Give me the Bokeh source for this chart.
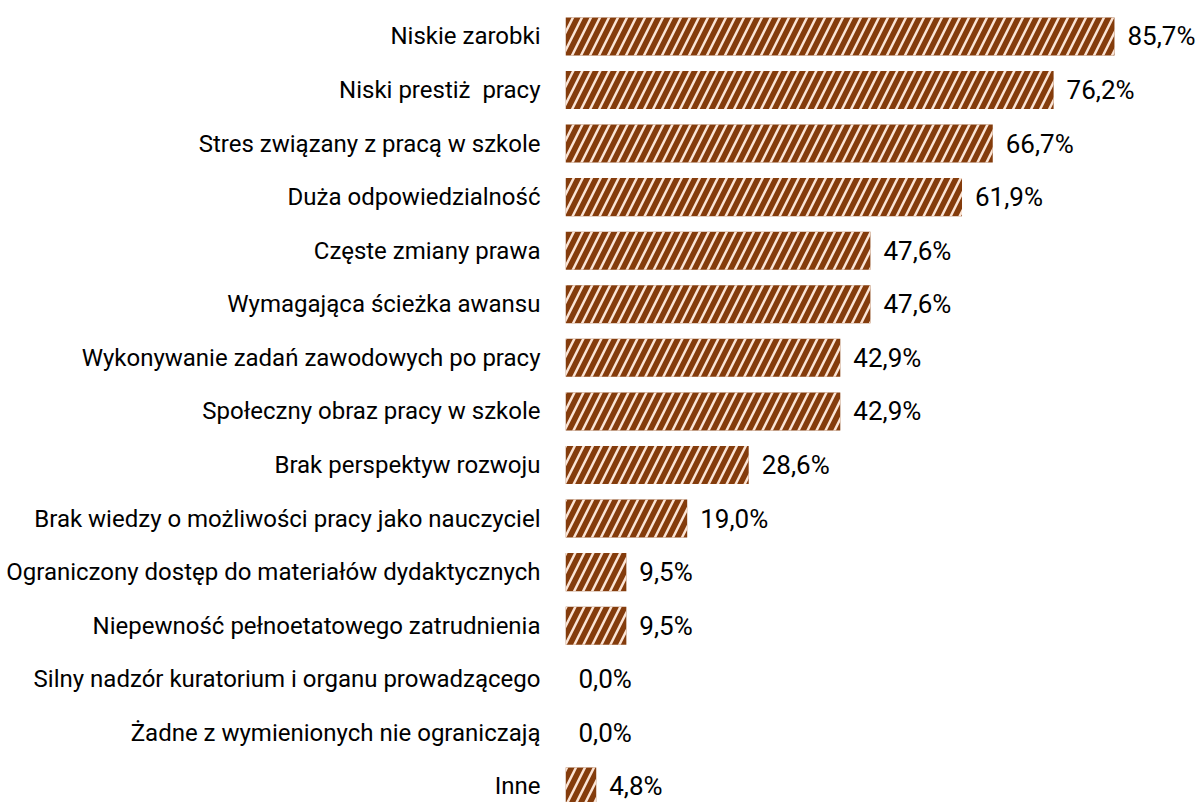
from bokeh.plotting import figure
from bokeh.models import Range1d, FixedTicker, ColumnDataSource
from bokeh.embed import file_html
from bokeh.resources import INLINE
from bokeh.core.properties import value

categories = [
    "Niskie zarobki",
    "Niski prestiż\u00a0 pracy",
    "Stres związany z pracą w szkole",
    "Duża odpowiedzialność",
    "Częste zmiany prawa",
    "Wymagająca ścieżka awansu",
    "Wykonywanie zadań zawodowych po pracy",
    "Społeczny obraz pracy w szkole",
    "Brak perspektyw rozwoju",
    "Brak wiedzy o możliwości pracy jako nauczyciel",
    "Ograniczony dostęp do materiałów dydaktycznych",
    "Niepewność pełnoetatowego zatrudnienia",
    "Silny nadzór kuratorium i organu prowadzącego",
    "Żadne z wymienionych nie ograniczają",
    "Inne",
]
values = [85.7, 76.2, 66.7, 61.9, 47.6, 47.6, 42.9, 42.9, 28.6, 19.0, 9.5, 9.5, 0.0, 0.0, 4.8]

pos = list(range(len(categories)))
labels = [f"{v:.1f}".replace(".", ",") + "%" for v in values]
src = ColumnDataSource(dict(y=pos, v=values, lab=labels))

FONT = "Roboto"

p = figure(width=1203, height=802, output_backend="svg", toolbar_location=None,
           x_range=Range1d(0, 99.6), y_range=Range1d(14.30, -0.67),
           min_border_left=565, min_border_right=0, min_border_top=0, min_border_bottom=0)

p.hbar(y="y", right="v", left=0, height=0.71, source=src,
       fill_color="#843C0C", line_color=None,
       hatch_pattern="/", hatch_color="#FBE5D6", hatch_weight=2.5, hatch_scale=18)

p.text(x="v", y="y", text="lab", source=src, x_offset=13,
       text_align="left", text_baseline="middle",
       text_font=value(FONT), text_font_size="26px", text_color="#000000")

p.xaxis.visible = False
p.xgrid.visible = False
p.ygrid.visible = False
p.outline_line_color = None

yax = p.yaxis[0]
yax.ticker = FixedTicker(ticks=pos)
yax.major_label_overrides = {i: c for i, c in enumerate(categories)}
yax.axis_line_color = None
yax.major_tick_line_color = None
yax.minor_tick_line_color = None
yax.major_tick_out = 0
yax.major_tick_in = 0
yax.major_label_standoff = 25
yax.major_label_text_font = FONT
yax.major_label_text_font_size = "24px"
yax.major_label_text_color = "#000000"

open("out.html", "w").write(file_html(p, INLINE))
